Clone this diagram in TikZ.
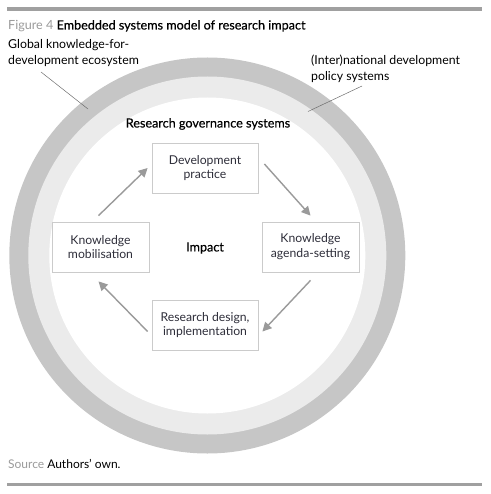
\documentclass[tikz,border=0pt]{standalone}
\usepackage{fontspec}
\setmainfont{Lato}
\newfontfamily\medfont[FakeBold=0.4]{Lato}
\usetikzlibrary{arrows.meta}
\definecolor{ringdark}{HTML}{C6C6C6}
\definecolor{ringlight}{HTML}{EBEBEB}
\definecolor{rulegray}{HTML}{A0A0A0}
\definecolor{boxline}{HTML}{CBCBCB}
\definecolor{arrowgray}{HTML}{9A9A9A}
\definecolor{txt}{HTML}{2E2E3A}
\definecolor{lightlabel}{HTML}{9A9A9A}
\definecolor{leader}{HTML}{6E6E6E}
\tikzset{
  stagebox/.style={draw=boxline, line width=0.8pt, fill=white, align=center,
    text=txt, inner sep=0pt, minimum height=50pt,
    font=\fontsize{12.2}{14.8}\selectfont},
  flowarrow/.style={draw=arrowgray, line width=1.4pt,
    -{Triangle[length=9pt,width=9pt]}},
  leaderline/.style={draw=leader, line width=0.5pt},
  labeltext/.style={align=left, inner sep=0pt, text=black,
    font=\fontsize{12.3}{15.5}\selectfont},
  medtext/.style={inner sep=0pt, font=\fontsize{12.6}{14}\selectfont\medfont}
}
\begin{document}
\begin{tikzpicture}[x=1pt,y=-1pt]
\useasboundingbox (0,0) rectangle (490,494);
% rules
\fill[rulegray] (7,7) rectangle (482,10.8);
\fill[rulegray] (7,482.5) rectangle (482,486);
% title
\node[anchor=base west, inner sep=0pt, font=\fontsize{12.6}{14}\selectfont] (title) at (8,29.5)
  {\textcolor{lightlabel}{Figure 4} \medfont Embedded systems model of research impact};
% rings
\coordinate (c) at (207.3,255.5);
\fill[ringdark] (c) circle[radius=198];
\fill[ringlight] (c) circle[radius=179];
\fill[white] (c) circle[radius=158];
% outer labels
\node[labeltext, anchor=north west] (glob) at (8,39.5) {Global knowledge-for-\\development ecosystem};
\node[labeltext, anchor=north west] (intl) at (311,55) {(Inter)national development\\policy systems};
\coordinate (g1) at (41,72);
\coordinate (g2) at (88,109);
\coordinate (i1) at (362,86);
\coordinate (i2) at (308,111.5);
\draw[leaderline] (g1) -- (g2);
\draw[leaderline] (i1) -- (i2);
\node[medtext] (gov) at (208,124) {Research governance systems};
% boxes
\node[stagebox, minimum width=106pt] (dp) at (205,168) {Development\\practice};
\node[stagebox, minimum width=97pt] (ka) at (310.5,247) {Knowledge\\agenda-setting};
\node[stagebox, minimum width=106pt] (rd) at (205,325) {Research design,\\implementation};
\node[stagebox, minimum width=97pt] (km) at (100.5,247) {Knowledge\\mobilisation};
\node[medtext] (imp) at (205,248) {Impact};
% arrows
\draw[flowarrow] ([xshift=-2pt,yshift=6pt]km.north) -- ([xshift=-4pt]dp.west);
\draw[flowarrow] ([xshift=6pt,yshift=4pt]dp.east) -- ([yshift=6pt]ka.north);
\draw[flowarrow] ([yshift=-8pt]ka.south) -- ([xshift=4pt,yshift=-6.5pt]rd.east);
\draw[flowarrow] ([xshift=-4pt,yshift=-6.5pt]rd.west) -- ([xshift=-2pt,yshift=-9pt]km.south);
% source
\node[anchor=base west, inner sep=0pt, font=\fontsize{12}{14}\selectfont] (src) at (8,468)
  {\textcolor{lightlabel}{Source} Authors' own.};
\end{tikzpicture}
\end{document}
